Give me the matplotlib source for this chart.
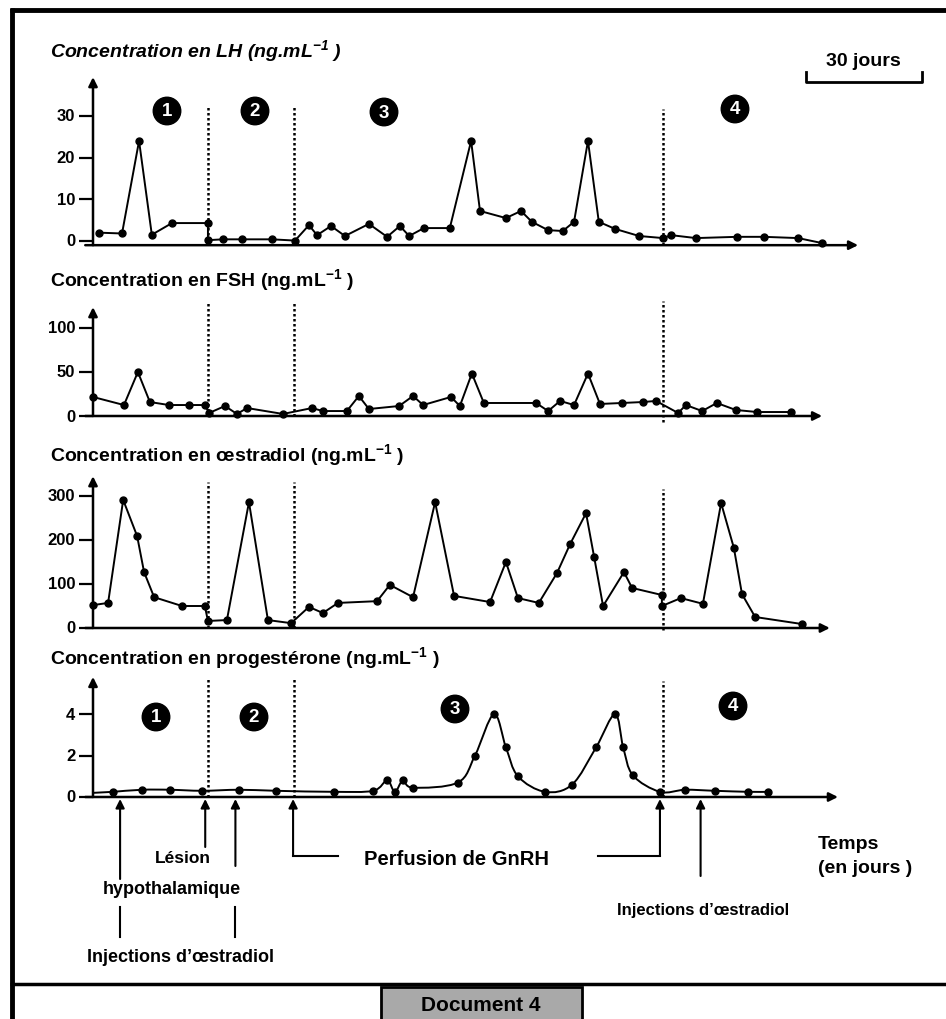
import numpy as np
import matplotlib.pyplot as plt
from matplotlib.path import Path
from matplotlib.patches import PathPatch, Rectangle

plt.rcParams['font.family'] = ['Liberation Sans', 'DejaVu Sans']
plt.rcParams['mathtext.fontset'] = 'custom'
plt.rcParams['mathtext.rm'] = 'Liberation Sans:bold'
plt.rcParams['mathtext.it'] = 'Liberation Sans:italic:bold'
plt.rcParams['mathtext.bf'] = 'Liberation Sans:bold'

# ---- values read from the document (time in days, concentrations in ng/mL)
lh_days = [1.6, 7.5, 11.9, 15.2, 20.4, 29.7, 29.7, 33.6, 38.5, 46.3, 52.2, 55.8, 57.9,
           61.5, 65.1, 71.3, 76.0, 79.3, 81.7, 85.5, 92.2, 97.7, 100.0, 106.7, 110.6,
           113.4, 117.6, 121.4, 124.3, 127.9, 130.7, 134.9, 141.1, 147.3, 149.4, 155.8,
           166.4, 173.4, 182.2, 188.4]
lh_vals = [2, 1.8, 24, 1.5, 4.3, 4.3, 0.2, 0.4, 0.4, 0.4, 0.1, 3.8, 1.4,
           3.6, 1.2, 4.1, 1.0, 3.6, 1.2, 3.1, 3.1, 24, 7.2, 5.5, 7.2,
           4.6, 2.6, 2.4, 4.6, 24, 4.6, 2.9, 1.2, 0.7, 1.4, 0.7,
           1.0, 1.0, 0.7, -0.5]

fsh_days = [0, 8.0, 11.6, 14.7, 19.6, 24.8, 28.9, 30.0, 34.1, 37.2, 39.8, 49.1, 56.6,
            59.4, 65.6, 68.7, 71.3, 79.1, 82.7, 85.3, 92.5, 94.8, 97.9, 101.0, 114.5,
            117.6, 120.7, 124.3, 127.9, 131.0, 136.7, 142.1, 145.5, 151.2, 153.2, 157.4,
            161.2, 166.1, 171.6, 180.4]
fsh_vals = [21.5, 12.4, 49.7, 15.8, 12.4, 12.4, 12.4, 3.4, 11.3, 2.3, 9, 2.3, 9,
            5.6, 5.6, 22.6, 7.9, 11.3, 22.6, 12.4, 21.5, 11.3, 48, 14.7, 14.7,
            5.6, 17, 12.4, 48, 13.6, 14.7, 15.8, 17, 3.4, 12.4, 5.6,
            14.7, 6.8, 4.5, 4.5]

oe_days = [0, 3.9, 7.8, 11.4, 13.2, 15.8, 23.0, 28.9, 29.7, 34.6, 40.3, 45.2, 51.2,
           55.8, 59.4, 63.3, 73.4, 76.7, 82.7, 88.4, 93.3, 102.6, 106.7, 109.8, 115.2,
           119.9, 123.3, 127.4, 129.5, 131.8, 137.2, 139.3, 147.0, 147.0, 151.9, 157.6,
           162.3, 165.6, 167.7, 171.1, 183.2]
oe_vals = [52, 57, 291, 209, 127, 70, 50, 50, 16, 18, 286, 18, 11,
           48, 34, 57, 61, 98, 70, 286, 73, 59, 150, 68, 57,
           125, 191, 261, 161, 50, 127, 91, 75, 50, 68, 55,
           284, 182, 77, 25, 9]

prog_days = [5.2, 12.7, 19.9, 28.2, 37.7, 47.3, 62.3, 72.4, 76.0, 78.0, 80.1, 82.7,
             94.3, 98.7, 103.6, 106.7, 109.8, 116.8, 123.8, 130.0, 134.9, 137.0, 139.5,
             146.5, 153.0, 160.7, 169.3, 174.4]
prog_vals = [0.25, 0.35, 0.35, 0.3, 0.35, 0.3, 0.25, 0.3, 0.8, 0.25, 0.8, 0.45,
             0.7, 2.0, 4.0, 2.4, 1.0, 0.25, 0.6, 2.4, 4.0, 2.4, 1.05,
             0.25, 0.35, 0.3, 0.25, 0.25]

lh_ticks = [0, 10, 20, 30]
fsh_ticks = [0, 50, 100]
oe_ticks = [0, 100, 200, 300]
prog_ticks = [0, 2, 4]

phase_limits = [29.7, 52.0, 147.3]
oe_injection_days = [7.0, 36.8]
lesion_day = 29.0
gnrh_start, gnrh_end = 51.7, 146.5
oe_injection_day2 = 157.0

# ---- layout (pixels of the 946x1020 page)
W, H = 946, 1020
X0, PXD = 93, 3.87          # pixel of day 0, pixels per day


def px(d):
    return X0 + PXD * d


fig = plt.figure(figsize=(W / 100, H / 100), dpi=100)
base = fig.add_axes([0, 0, 1, 1])
base.set_xlim(0, W)
base.set_ylim(H, 0)
base.axis('off')

arrow_kw = dict(arrowstyle='-|>', color='black', lw=1.8, mutation_scale=13,
                shrinkA=0, shrinkB=0)


def panel(top, bottom, y0px, ppu):
    ax = fig.add_axes([60 / W, 1 - bottom / H, 840 / W, (bottom - top) / H])
    ax.set_xlim((60 - X0) / PXD, (900 - X0) / PXD)
    ax.set_ylim((y0px - bottom) / ppu, (y0px - top) / ppu)
    ax.axis('off')
    return ax


def draw(ax, days, vals, ticks, base_val, x_end, y_tip, dot_lo, dot_hi, smooth=False):
    if smooth:
        pts = np.column_stack([days, vals])
        verts = [pts[0]]
        codes = [Path.MOVETO]
        for i in range(len(pts) - 1):
            p0 = pts[max(i - 1, 0)]
            p1, p2 = pts[i], pts[i + 1]
            p3 = pts[min(i + 2, len(pts) - 1)]
            verts += [p1 + (p2 - p0) / 6, p2 - (p3 - p1) / 6, p2]
            codes += [Path.CURVE4] * 3
        ax.add_patch(PathPatch(Path(verts, codes), fc='none', ec='black', lw=1.4,
                               clip_on=False))
        ax.plot(days, vals, 'o', color='black', ms=5, clip_on=False)
    else:
        ax.plot(days, vals, '-o', color='black', lw=1.4, ms=5, clip_on=False)
    # axes with arrow heads
    ax.annotate('', xy=(0, y_tip), xytext=(0, base_val), arrowprops=arrow_kw)
    ax.annotate('', xy=(x_end, base_val), xytext=(-2, base_val), arrowprops=arrow_kw)
    for t in ticks:
        ax.plot([-3.6, 0], [t, t], color='black', lw=1.6, solid_capstyle='butt')
        ax.text(-4.6, t, str(t), ha='right', va='center', fontsize=12,
                fontweight='bold')
    for k, d in enumerate(phase_limits):
        ax.plot([d, d], [dot_lo[k], dot_hi[k]], color='black', lw=1.8,
                linestyle=(0, (1, 1)), solid_capstyle='butt')


# LH
ax_lh = panel(65, 260, 242, 4.17)
draw(ax_lh, lh_days, lh_vals, lh_ticks, -1.0, 197.7, 39.3,
     [-1, -1, -1], [32.4, 32.4, 31.7])
# FSH
ax_fsh = panel(295, 440, 417, 0.885)
draw(ax_fsh, fsh_days, fsh_vals, fsh_ticks, 0, 188.4, 123,
     [0, 0, -7], [130, 130, 130])
# oestradiol
ax_oe = panel(468, 645, 629, 0.44)
draw(ax_oe, oe_days, oe_vals, oe_ticks, 0, 190.4, 345,
     [0, 0, -5], [332, 332, 316])
# progesterone
ax_pr = panel(670, 815, 798, 20.7)
draw(ax_pr, prog_days, prog_vals, prog_ticks, 0, 192.5, 5.8,
     [0, 0, 0], [5.7, 5.7, 5.6], smooth=True)
ax_pr.plot([0, prog_days[0]], [0.2, prog_vals[0]], color='black', lw=1.4)

# ---- titles
title_kw = dict(fontsize=14, fontweight='bold', va='center', ha='left')
base.text(50, 51, r'Concentration en LH (ng.mL$^{\mathregular{-1}}$ )', style='italic',
          **title_kw)
base.text(50, 280, r'Concentration en FSH (ng.mL$^{\mathregular{-1}}$ )', **title_kw)
base.text(50, 455, r'Concentration en œstradiol (ng.mL$^{\mathregular{-1}}$ )', **title_kw)
base.text(50, 658, r'Concentration en progestérone (ng.mL$^{\mathregular{-1}}$ )',
          **title_kw)

# phase numbers
circ = dict(boxstyle='circle,pad=0.28', fc='black', ec='black')
for (x, y), n in zip([(167, 112), (255, 112), (384, 113), (735, 110),
                      (156, 718), (254, 718), (455, 710), (733, 707)],
                     ['1', '2', '3', '4', '1', '2', '3', '4']):
    base.text(x, y, n, ha='center', va='center', color='white', fontsize=13.5,
              fontweight='bold', bbox=circ)

# scale bar
base.text(863, 62, '30 jours', ha='center', va='center', fontsize=14, fontweight='bold')
base.plot([806, 806, 922, 922], [73, 83, 83, 73], color='black', lw=2)

# ---- bottom annotations
up = dict(arrowstyle='-|>', color='black', lw=1.5, mutation_scale=13, shrinkA=0, shrinkB=0)
for d in oe_injection_days:
    base.annotate('', xy=(px(d), 800), xytext=(px(d), 880 if d < 20 else 867),
                  arrowprops=up)
    base.plot([px(d), px(d)], [908, 938], color='black', lw=1.5)
base.annotate('', xy=(px(lesion_day), 800), xytext=(px(lesion_day), 848), arrowprops=up)
base.text(183, 859, 'Lésion', ha='center', va='center', fontsize=12.5, fontweight='bold')
base.text(172, 890, 'hypothalamique', ha='center', va='center', fontsize=13,
          fontweight='bold')
base.text(180, 958, 'Injections d’œstradiol', ha='center', va='center', fontsize=13,
          fontweight='bold')

xs, xe = px(gnrh_start), px(gnrh_end)
base.annotate('', xy=(xs, 800), xytext=(xs, 857), arrowprops=up)
base.annotate('', xy=(xe, 800), xytext=(xe, 857), arrowprops=up)
base.plot([xs, 338], [857, 857], color='black', lw=1.5)
base.plot([598, xe], [857, 857], color='black', lw=1.5)
base.text(456, 860, 'Perfusion de GnRH', ha='center', va='center', fontsize=14.5,
          fontweight='bold')

x2 = px(oe_injection_day2)
base.annotate('', xy=(x2, 800), xytext=(x2, 877), arrowprops=up)
base.text(703, 911, 'Injections d’œstradiol', ha='center', va='center', fontsize=12,
          fontweight='bold')
base.text(818, 845, 'Temps', ha='left', va='center', fontsize=14, fontweight='bold')
base.text(818, 869, '(en jours )', ha='left', va='center', fontsize=14, fontweight='bold')

# ---- page frame
base.plot([12, 12], [9, H], color='black', lw=3.5, solid_capstyle='butt')
base.plot([10, W], [11, 11], color='black', lw=3.5, solid_capstyle='butt')
base.plot([10, W], [985, 985], color='black', lw=2.5, solid_capstyle='butt')
base.add_patch(Rectangle((381, 988), 201, 34, fc='#a9a9a9', ec='black', lw=2))
base.text(481, 1006, 'Document 4', ha='center', va='center', fontsize=15,
          fontweight='bold')

fig.savefig('out.png', dpi=100)
